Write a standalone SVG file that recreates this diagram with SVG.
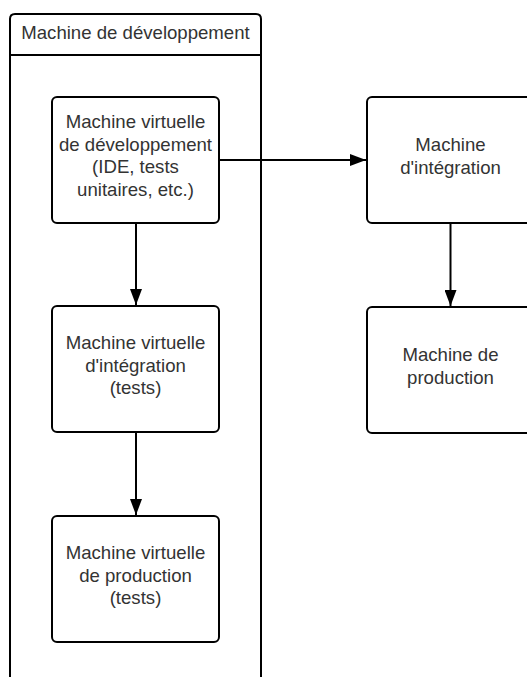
<svg xmlns="http://www.w3.org/2000/svg" width="527" height="677" viewBox="0 0 527 677">
<defs>
<style>
.box{fill:#fff;stroke:#000;stroke-width:2}
.t{font-family:"Liberation Sans",Arial,sans-serif;font-size:18.6px;fill:#333;text-anchor:middle}
.c{stroke:#000;stroke-width:2;fill:none}
</style>
<marker id="ah" viewBox="0 0 16 12" refX="16" refY="6" markerWidth="16" markerHeight="12" markerUnits="userSpaceOnUse" orient="auto">
<path d="M0,0 L16,6 L0,12 Z" fill="#000"/>
</marker>
</defs>
<rect width="527" height="677" fill="#fff"/>
<g id="container">
<path class="box" d="M10,678 V19 Q10,14 15,14 H256 Q261,14 261,19 V678"/>
<line class="c" x1="10" y1="55" x2="261" y2="55"/>
<text class="t" x="135.5" y="38.5">Machine de développement</text>
</g>
<g id="connectors">
<line class="c" x1="219" y1="160" x2="366" y2="160" marker-end="url(#ah)"/>
<line class="c" x1="136" y1="223" x2="136" y2="305" marker-end="url(#ah)"/>
<line class="c" x1="136" y1="432" x2="136" y2="515" marker-end="url(#ah)"/>
<line class="c" x1="450.5" y1="223" x2="450.5" y2="306" marker-end="url(#ah)"/>
</g>
<g id="vm-dev">
<rect class="box" x="52" y="97" width="167" height="126" rx="5"/>
<text class="t" x="135.5" y="128">Machine virtuelle</text>
<text class="t" x="135.5" y="150.5">de développement</text>
<text class="t" x="135.5" y="173">(IDE, tests</text>
<text class="t" x="135.5" y="195.5">unitaires, etc.)</text>
</g>
<g id="vm-int">
<rect class="box" x="52" y="306" width="167" height="126" rx="5"/>
<text class="t" x="135.5" y="349">Machine virtuelle</text>
<text class="t" x="135.5" y="371.5">d'intégration</text>
<text class="t" x="135.5" y="394">(tests)</text>
</g>
<g id="vm-prod">
<rect class="box" x="52" y="516" width="167" height="126" rx="5"/>
<text class="t" x="135.5" y="559">Machine virtuelle</text>
<text class="t" x="135.5" y="581.5">de production</text>
<text class="t" x="135.5" y="604">(tests)</text>
</g>
<g id="int">
<rect class="box" x="367" y="97" width="167" height="126" rx="5"/>
<text class="t" x="450.5" y="151">Machine</text>
<text class="t" x="450.5" y="173.5">d'intégration</text>
</g>
<g id="prod">
<rect class="box" x="367" y="307" width="167" height="126" rx="5"/>
<text class="t" x="450.5" y="361">Machine de</text>
<text class="t" x="450.5" y="383.5">production</text>
</g>
</svg>
